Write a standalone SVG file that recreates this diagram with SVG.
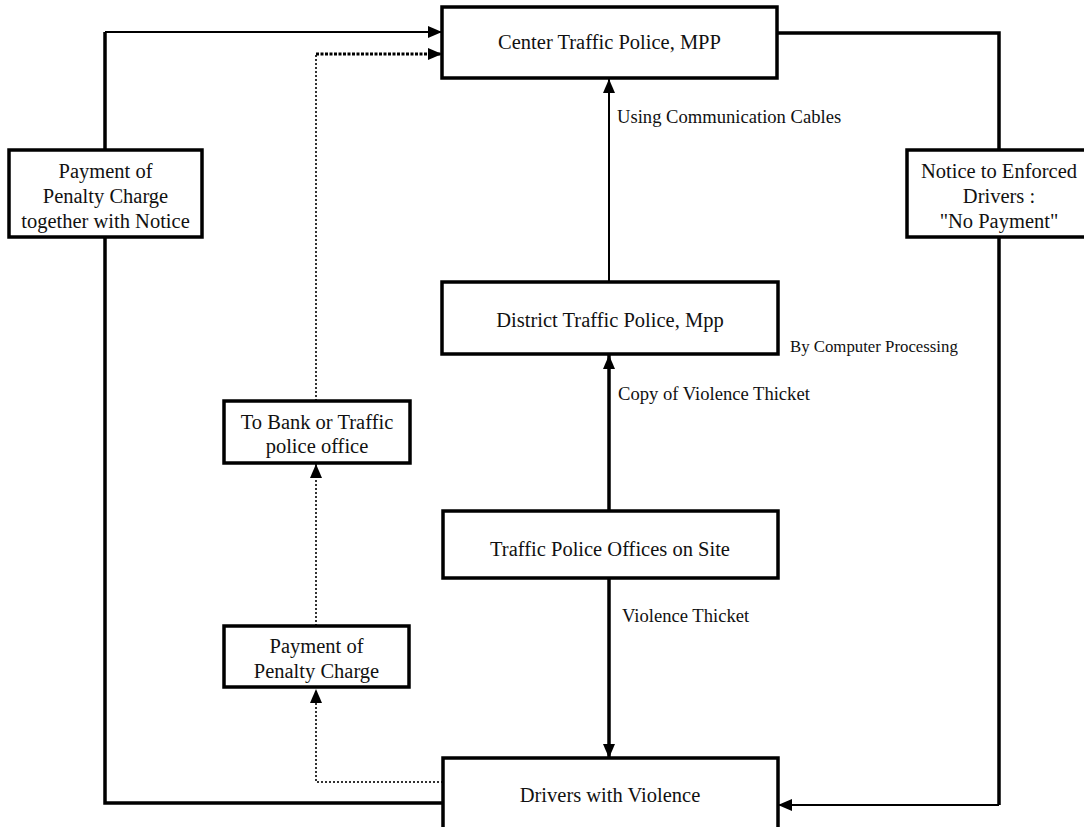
<svg xmlns="http://www.w3.org/2000/svg" width="1084" height="827" viewBox="0 0 1084 827">
<style>
.box{fill:#fff;stroke:#000;stroke-width:3.5}
.t{font-family:"Liberation Serif","Times New Roman",serif;font-size:20.5px;fill:#111;text-anchor:middle}
.lbl{font-family:"Liberation Serif","Times New Roman",serif;font-size:18.6px;fill:#111}
.sm{font-family:"Liberation Serif","Times New Roman",serif;font-size:16.8px;fill:#111}
.thick{fill:none;stroke:#000;stroke-width:3.5}
.thin{fill:none;stroke:#000;stroke-width:2}
.dot{fill:none;stroke:#333;stroke-width:2;stroke-dasharray:2 2}
.dotb{fill:none;stroke:#000;stroke-width:3;stroke-dasharray:3 1.5}
</style>
<defs>
<marker id="ah" markerUnits="userSpaceOnUse" markerWidth="14" markerHeight="12" refX="14" refY="6" orient="auto">
<path d="M0,0 L14,6 L0,12 z" fill="#000"/>
</marker>
</defs>
<rect width="1084" height="827" fill="#fff"/>
<g id="connectors">
<path class="thick" d="M443,803 H105 V32"/>
<path class="thin" d="M105,32 H442" marker-end="url(#ah)"/>
<path class="thick" d="M777,33 H999 V805"/>
<path class="thin" d="M999,805 H778" marker-end="url(#ah)"/>
<path class="dot" d="M443,782 H316 V689" marker-end="url(#ah)"/>
<path class="dot" d="M316,626 V464" marker-end="url(#ah)"/>
<path class="dot" d="M316,401 V54"/>
<path class="dotb" d="M316,54 H442" marker-end="url(#ah)"/>
<path class="thin" d="M609,282 V79" marker-end="url(#ah)"/>
<path class="thick" d="M609,511 V355" marker-end="url(#ah)"/>
<path class="thick" d="M609,578 V758" marker-end="url(#ah)"/>
</g>
<g id="labels">
<text class="lbl" x="617" y="123">Using Communication Cables</text>
<text class="sm" x="790" y="352">By Computer Processing</text>
<text class="lbl" x="618" y="400">Copy of Violence Thicket</text>
<text class="lbl" x="622" y="622">Violence Thicket</text>
</g>
<g id="center">
<rect class="box" x="442" y="7" width="335" height="71"/>
<text class="t" x="609.5" y="49">Center Traffic Police, MPP</text>
</g>
<g id="district">
<rect class="box" x="442" y="282" width="336" height="72"/>
<text class="t" x="610" y="327">District Traffic Police, Mpp</text>
</g>
<g id="offices">
<rect class="box" x="443" y="511" width="335" height="67"/>
<text class="t" x="610" y="556">Traffic Police Offices on Site</text>
</g>
<g id="drivers">
<rect class="box" x="443" y="758" width="335" height="72"/>
<text class="t" x="610" y="802">Drivers with Violence</text>
</g>
<g id="payment-notice">
<rect class="box" x="9" y="150" width="193" height="87"/>
<text class="t" x="105.5" y="178">Payment of</text>
<text class="t" x="105.5" y="203">Penalty Charge</text>
<text class="t" x="105.5" y="228">together with Notice</text>
</g>
<g id="notice">
<rect class="box" x="907" y="150" width="184" height="87"/>
<text class="t" x="999" y="178">Notice to Enforced</text>
<text class="t" x="999" y="203">Drivers :</text>
<text class="t" x="999" y="228">"No Payment"</text>
</g>
<g id="bank">
<rect class="box" x="224" y="401" width="186" height="62"/>
<text class="t" x="317" y="429">To Bank or Traffic</text>
<text class="t" x="317" y="453">police office</text>
</g>
<g id="payment">
<rect class="box" x="224" y="626" width="185" height="61"/>
<text class="t" x="316.5" y="653">Payment of</text>
<text class="t" x="316.5" y="678">Penalty Charge</text>
</g>
</svg>
